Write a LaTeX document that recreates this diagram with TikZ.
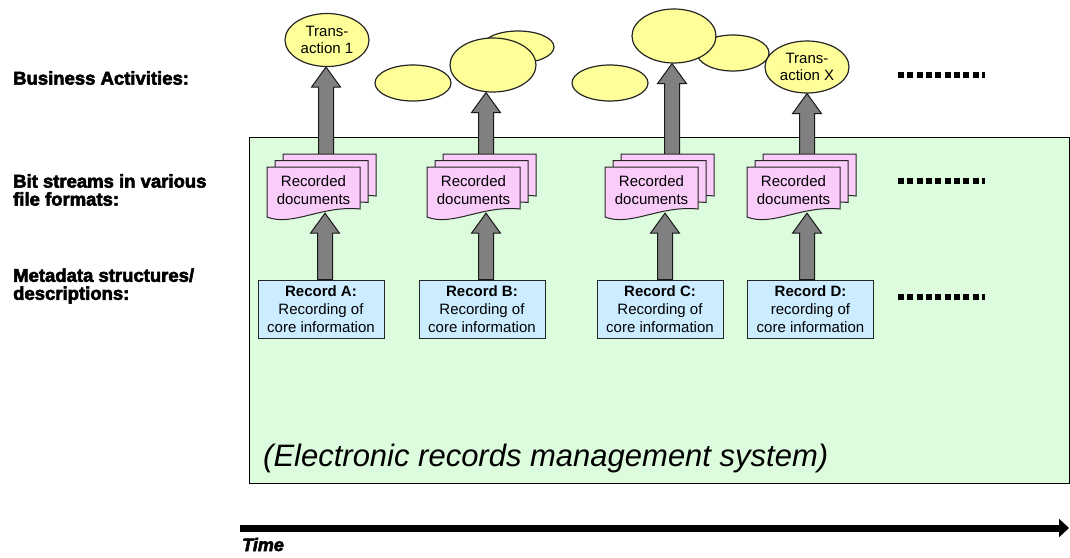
\documentclass[tikz,border=0pt]{standalone}
\usepackage{fontspec}
\setmainfont{Liberation Sans}
\newfontface\heavyfont{Liberation Sans Bold}[FakeBold=3]
\newfontface\heavyitfont{Liberation Sans Bold Italic}[FakeBold=3]
\usetikzlibrary{shapes.geometric,arrows.meta,calc}
\pgfdeclarelayer{back}
\pgfdeclarelayer{mid}
\pgfsetlayers{back,mid,main}

\definecolor{ermsgreen}{RGB}{221,252,221}
\definecolor{evtyellow}{RGB}{255,255,153}
\definecolor{docpink}{RGB}{250,204,250}
\definecolor{recblue}{RGB}{204,236,255}
\definecolor{arrgray}{RGB}{128,128,128}

% one sheet of a document stack, top-left corner at (#1,#2)
\newcommand\pageshape[2]{%
  \draw[page,shift={(#1,#2)}] (0,0) -- (93,0) -- (93,42)
    .. controls (55,38) and (25,60) .. (0,50) -- cycle;}
% a stack of three sheets with a named text node on the front sheet
\newcommand\docstack[4]{%
  \pageshape{#2+16}{#3-13}
  \pageshape{#2+8}{#3-6.5}
  \pageshape{#2}{#3}
  \node[doctext] (#1) at (#2+46.5,#3+23) {#4};}
% broad block arrow at x=#1 from node anchor #2 up to node anchor #3
\newcommand\fatarrow[3]{%
  \path[fatarr] let \p1=(#2), \p2=(#3) in
    (#1pt-7.5pt,\y1) -- (#1pt-7.5pt,\y2-20pt) -- (#1pt-14.5pt,\y2-20pt)
    -- (#1pt,\y2) -- (#1pt+14.5pt,\y2-20pt) -- (#1pt+7.5pt,\y2-20pt)
    -- (#1pt+7.5pt,\y1) -- cycle;}

\begin{document}
\begin{tikzpicture}[x=1pt,y=-1pt,
  lbl/.style={font=\heavyfont\fontsize{18.5}{18}\selectfont, align=left, inner sep=0pt, anchor=west},
  evt/.style={ellipse, draw=black!85, line width=1.2pt, fill=evtyellow, inner sep=0pt,
    align=center, font=\fontsize{15}{17}\selectfont},
  doctext/.style={inner sep=0pt, minimum width=93pt, minimum height=46pt, align=center,
    font=\fontsize{15}{18}\selectfont},
  page/.style={draw=black!85, line width=1pt, fill=docpink},
  recbox/.style={draw=black!85, line width=1pt, fill=recblue, minimum width=126pt,
    minimum height=58pt, inner sep=0pt, align=center, font=\fontsize{15}{18}\selectfont},
  fatarr/.style={draw=black!90, line width=1pt, fill=arrgray},
  more/.style={line width=5.5pt, dash pattern=on 6pt off 3.33pt},
]
\useasboundingbox (0,0) rectangle (1070,557);

\begin{pgfonlayer}{back}
  \fill[white] (0,0) rectangle (1070,557);
  \filldraw[fill=ermsgreen, draw=black, line width=1pt] (249,137) rectangle (1069.5,483);
\end{pgfonlayer}

% row labels
\node[lbl] (lba) at (13,78) {Business Activities:};
\node[lbl] (lbs) at (13,190) {Bit streams in various\\file formats:};
\node[lbl] (lmd) at (13,286) {Metadata structures/\\descriptions:};

% business activities
\node[evt, minimum width=84pt, minimum height=53pt] (eA) at (327,40) {Trans-\\action 1};
\node[evt, minimum width=76pt, minimum height=36pt] (eA2) at (413,83) {};
\node[evt, minimum width=72pt, minimum height=32pt] (eB2) at (518,47) {};
\node[evt, minimum width=86pt, minimum height=54pt] (eB) at (493,65) {};
\node[evt, minimum width=76pt, minimum height=36pt] (eC2) at (610,83) {};
\node[evt, minimum width=72pt, minimum height=36pt] (eC3) at (733,53) {};
\node[evt, minimum width=84pt, minimum height=54pt] (eC) at (674,36) {};
\node[evt, minimum width=84pt, minimum height=52pt] (eX) at (807,67) {Trans-\\action X};

% recorded documents
\docstack{dA}{267}{167}{Recorded\\documents}
\docstack{dB}{427}{167}{Recorded\\documents}
\docstack{dC}{605}{167}{Recorded\\documents}
\docstack{dD}{747}{167}{Recorded\\documents}

% records
\node[recbox] (rA) at (321,309) {\textbf{Record A:}\\Recording of\\core information};
\node[recbox] (rB) at (482,309) {\textbf{Record B:}\\Recording of\\core information};
\node[recbox] (rC) at (660,309) {\textbf{Record C:}\\Recording of\\core information};
\node[recbox] (rD) at (810.5,309) {\textbf{Record D:}\\recording of\\core information};

% block arrows
\begin{pgfonlayer}{mid}
  \fatarrow{326}{dA.north}{eA.south}
  \fatarrow{486}{dB.north}{eB.south}
  \fatarrow{672}{dC.north}{eC.south}
  \fatarrow{807}{dD.north}{eX.south}
  \fatarrow{325}{rA.north}{dA.south}
  \fatarrow{486}{rB.north}{dB.south}
  \fatarrow{665}{rC.north}{dC.south}
  \fatarrow{807}{rD.north}{dD.south}
\end{pgfonlayer}

% continuation marks
\draw[more] (898,75) -- (985,75);
\draw[more] (898,181) -- (985,181);
\draw[more] (898,297) -- (985,297);

\node[font=\itshape\fontsize{31}{36}\selectfont, anchor=base west, inner sep=0pt] (erms)
  at (263,466) {(Electronic records management system)};

% time axis
\coordinate (t0) at (240,528);
\coordinate (t1) at (1069,528);
\draw[line width=7pt, -{Triangle[length=10pt,width=18pt]}] (t0) -- (t1);
\node[font=\heavyitfont\fontsize{18}{18}\selectfont, anchor=base west, inner sep=0pt] (tlbl)
  at (242,551) {Time};
\end{tikzpicture}
\end{document}
